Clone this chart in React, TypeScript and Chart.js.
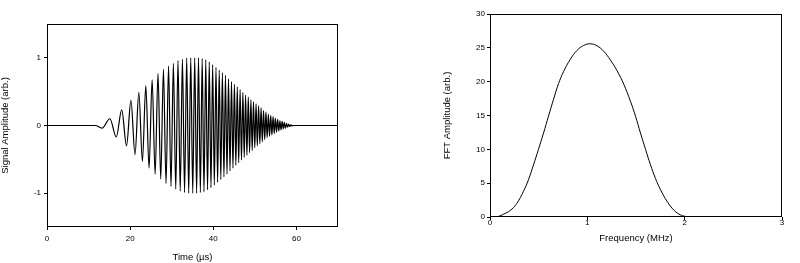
import React, { useEffect, useRef } from 'react';
import { Chart, registerables } from 'chart.js';

Chart.register(...registerables);
Chart.defaults.color = '#000';

// ---- Left panel: chirp signal (extrema) ----
const signalTime = [
  0, 11.6, 13.23, 15.13, 16.66, 17.97, 19.13, 20.19, 21.17, 22.09, 22.95, 23.77, 24.55, 25.29,
  26.01, 26.7, 27.36, 28.01, 28.63, 29.24, 29.83, 30.4, 30.97, 31.51, 32.05, 32.58, 33.09,
  33.6, 34.09, 34.58, 35.06, 35.53, 35.99, 36.44, 36.89, 37.33, 37.76, 38.19, 38.62, 39.03,
  39.44, 39.85, 40.25, 40.65, 41.04, 41.43, 41.81, 42.19, 42.56, 42.93, 43.3, 43.66, 44.02,
  44.38, 44.73, 45.08, 45.43, 45.77, 46.11, 46.45, 46.78, 47.12, 47.44, 47.77, 48.09, 48.42,
  48.73, 49.05, 49.36, 49.67, 49.98, 50.29, 50.59, 50.9, 51.2, 51.5, 51.79, 52.09, 52.38,
  52.67, 52.96, 53.25, 53.53, 53.82, 54.1, 54.38, 54.66, 54.93, 55.21, 55.48, 55.76, 56.03,
  56.29, 56.56, 56.83, 57.09, 57.35, 57.62, 57.88, 58.14, 58.39, 58.65, 58.91, 59.2, 70,
];
const signalAmp = [
  0, 0, -0.04, 0.1, -0.17, 0.23, -0.3, 0.37, -0.43, 0.49, -0.53, 0.59, -0.63, 0.68,
  -0.72, 0.77, -0.79, 0.83, -0.86, 0.88, -0.9, 0.92, -0.94, 0.96, -0.97, 0.98, -0.99,
  0.995, -1.0, 1.0, -1.0, 1.0, -1.0, 1.0, -0.99, 0.99, -0.98, 0.97, -0.95, 0.94,
  -0.92, 0.9, -0.88, 0.86, -0.84, 0.82, -0.8, 0.78, -0.76, 0.74, -0.72, 0.69, -0.67,
  0.65, -0.63, 0.61, -0.59, 0.57, -0.55, 0.53, -0.51, 0.49, -0.47, 0.45, -0.44, 0.42,
  -0.4, 0.38, -0.37, 0.35, -0.33, 0.32, -0.3, 0.29, -0.27, 0.26, -0.24, 0.22, -0.21,
  0.2, -0.18, 0.17, -0.16, 0.15, -0.14, 0.13, -0.12, 0.11, -0.1, 0.09, -0.08, 0.07,
  -0.065, 0.06, -0.05, 0.045, -0.04, 0.03, -0.025, 0.02, -0.015, 0.01, -0.005, 0, 0,
];
const timeTicks = [0, 20, 40, 60];
const signalTicks = [-1, 0, 1];

// ---- Right panel: FFT amplitude ----
const fftFreq = [
  0, 0.05, 0.09, 0.137, 0.206, 0.275, 0.344, 0.395, 0.447, 0.498, 0.55, 0.601, 0.653, 0.704,
  0.756, 0.825, 0.893, 0.962, 1.03, 1.099, 1.168, 1.237, 1.306, 1.375, 1.443, 1.495, 1.546,
  1.598, 1.649, 1.7, 1.753, 1.82, 1.89, 1.959, 2.027, 2.07,
];
const fftAmp = [
  0.05, 0.05, 0.1, 0.4, 0.94, 2.0, 3.8, 5.5, 7.7, 10.0, 12.4, 14.9, 17.4, 19.7,
  21.5, 23.3, 24.6, 25.35, 25.6, 25.3, 24.5, 23.2, 21.6, 19.6, 17.1, 14.9, 12.4,
  10.0, 7.7, 5.7, 4.0, 2.3, 1.0, 0.3, 0.05, 0.05,
];
const freqTicks = [0, 1, 2, 3];
const fftTicks = [0, 5, 10, 15, 20, 25, 30];

const FONT_FAMILY = "Arial, 'Liberation Sans', Helvetica, sans-serif";

const framePlugin = {
  id: 'frame',
  afterDraw(chart: any) {
    const { ctx, chartArea } = chart;
    const l = Math.round(chartArea.left) + 0.5;
    const t = Math.round(chartArea.top) + 0.5;
    const r = Math.round(chartArea.right) - 0.5;
    const b = Math.round(chartArea.bottom) - 0.5;
    ctx.save();
    ctx.strokeStyle = '#000';
    ctx.lineWidth = 1;
    ctx.strokeRect(l, t, r - l, b - t);
    ctx.restore();
  },
};

interface PanelOpts {
  xs: number[];
  ys: number[];
  lineWidth: number;
  monotone: boolean;
  xMin: number;
  xMax: number;
  yMin: number;
  yMax: number;
  xTicks: number[];
  yTicks: number[];
  xTitle: string;
  yTitle: string;
  padTop: number;
  padRight: number;
  yAxisWidth: number;
  xAxisHeight: number;
  xTickPad: number;
  yTickPad: number;
  xTitlePadBottom: number;
  yTitlePadTop: number;
}

function buildChart(canvas: HTMLCanvasElement, o: PanelOpts) {
  const points = o.xs.map((x, i) => ({ x, y: o.ys[i] }));
  const tickFont = { family: FONT_FAMILY, size: 8 };
  const titleFont = { family: FONT_FAMILY, size: 9.5 };
  const curve = o.monotone
    ? { cubicInterpolationMode: 'monotone' }
    : { cubicInterpolationMode: 'default', tension: 0.4 };
  return new Chart(canvas, {
    type: 'line',
    data: {
      datasets: [
        {
          data: points,
          borderColor: '#000',
          borderWidth: o.lineWidth,
          pointRadius: 0,
          fill: false,
          ...curve,
        },
      ],
    },
    options: {
      animation: false,
      responsive: false,
      devicePixelRatio: 1,
      events: [],
      layout: { padding: { top: o.padTop, right: o.padRight, left: 0, bottom: 0 } },
      plugins: { legend: { display: false }, tooltip: { enabled: false } },
      scales: {
        x: {
          type: 'linear',
          min: o.xMin,
          max: o.xMax,
          border: { display: false },
          grid: { drawOnChartArea: false, drawTicks: true, tickLength: 3, color: '#000' },
          ticks: {
            font: tickFont,
            padding: o.xTickPad,
            maxRotation: 0,
            autoSkip: false,
            callback: (v: any) => String(v),
          },
          title: {
            display: true,
            text: o.xTitle,
            font: titleFont,
            padding: { top: 0, bottom: o.xTitlePadBottom },
          },
          afterBuildTicks: (scale: any) => {
            scale.ticks = o.xTicks.map((v) => ({ value: v }));
          },
          afterFit: (scale: any) => {
            scale.height = o.xAxisHeight;
            scale.paddingLeft = 0;
            scale.paddingRight = 0;
            scale.paddingTop = 0;
            scale.paddingBottom = 0;
          },
        },
        y: {
          type: 'linear',
          min: o.yMin,
          max: o.yMax,
          border: { display: false },
          grid: { drawOnChartArea: false, drawTicks: true, tickLength: 3, color: '#000' },
          ticks: {
            font: tickFont,
            padding: o.yTickPad,
            autoSkip: false,
            callback: (v: any) => String(v),
          },
          title: {
            display: true,
            text: o.yTitle,
            font: titleFont,
            padding: { top: o.yTitlePadTop, bottom: 0 },
          },
          afterBuildTicks: (scale: any) => {
            scale.ticks = o.yTicks.map((v) => ({ value: v }));
          },
          afterFit: (scale: any) => {
            scale.width = o.yAxisWidth;
            scale.paddingLeft = 0;
            scale.paddingRight = 0;
            scale.paddingTop = 0;
            scale.paddingBottom = 0;
          },
        },
      },
    } as any,
    plugins: [framePlugin],
  });
}

export default function App() {
  const leftRef = useRef<HTMLCanvasElement>(null);
  const rightRef = useRef<HTMLCanvasElement>(null);

  useEffect(() => {
    const c1 = buildChart(leftRef.current!, {
      xs: signalTime,
      ys: signalAmp,
      lineWidth: 1.2,
      monotone: true,
      xMin: 0,
      xMax: 70,
      yMin: -1.5,
      yMax: 1.5,
      xTicks: timeTicks,
      yTicks: signalTicks,
      xTitle: 'Time (µs)',
      yTitle: 'Signal Amplitude (arb.)',
      padTop: 24,
      padRight: 62,
      yAxisWidth: 47,
      xAxisHeight: 36,
      xTickPad: 4,
      yTickPad: 3,
      xTitlePadBottom: 0,
      yTitlePadTop: 0,
    });
    const c2 = buildChart(rightRef.current!, {
      xs: fftFreq,
      ys: fftAmp,
      lineWidth: 1,
      monotone: false,
      xMin: 0,
      xMax: 3,
      yMin: 0,
      yMax: 30,
      xTicks: freqTicks,
      yTicks: fftTicks,
      xTitle: 'Frequency (MHz)',
      yTitle: 'FFT Amplitude (arb.)',
      padTop: 14,
      padRight: 18,
      yAxisWidth: 90,
      xAxisHeight: 46,
      xTickPad: -2,
      yTickPad: 2,
      xTitlePadBottom: 19,
      yTitlePadTop: 41.5,
    });
    return () => {
      c1.destroy();
      c2.destroy();
    };
  }, []);

  return (
    <div style={{ position: 'absolute', left: 0, top: 0, width: 800, height: 263, background: '#fff' }}>
      <canvas
        ref={leftRef}
        width={400}
        height={263}
        style={{ position: 'absolute', left: 0, top: 0, width: 400, height: 263 }}
      />
      <canvas
        ref={rightRef}
        width={400}
        height={263}
        style={{ position: 'absolute', left: 400, top: 0, width: 400, height: 263 }}
      />
    </div>
  );
}
